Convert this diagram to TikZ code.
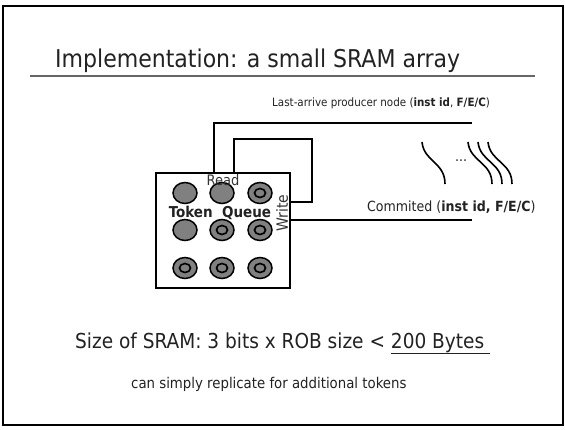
\documentclass[tikz,border=0pt]{standalone}
\usepackage{fontspec}
\setmainfont{DejaVu Sans Condensed}
\usetikzlibrary{shapes.geometric}
\definecolor{bitgray}{HTML}{808080}
\definecolor{txt}{HTML}{222222}
\tikzset{
  wire/.style={line width=2pt, black},
  wave/.style={line width=1.6pt, black},
  lbl/.style={inner sep=0pt, text=txt},
  arrbox/.style={draw, line width=2pt, minimum width=134pt, minimum height=115pt, inner sep=0pt},
  bit/.style={ellipse, draw, line width=1.5pt, fill=bitgray, minimum width=24pt, minimum height=21pt, inner sep=0pt},
  ringbit/.style={bit, path picture={\draw[line width=1.6pt] (path picture bounding box.center) ellipse (5.5pt and 4.5pt);}}
}
\begin{document}
\begin{tikzpicture}[x=1pt,y=-1pt]
\useasboundingbox (0,0) rectangle (565,429);
\draw[line width=2pt] (3,6) rectangle (563,425);
% title
\node[lbl, anchor=base west, font=\fontsize{24.5}{27}\selectfont] (title) at (55,67) {Implementation: a small SRAM array};
\draw[line width=2pt, color=black!60] (30,76) -- (535,76);
% labels on right
\node[lbl, anchor=west, font=\fontsize{11.5}{13}\selectfont] (lap) at (272,103) {Last-arrive producer node (\textbf{inst id}, \textbf{F/E/C})};
\node[lbl, anchor=west, font=\fontsize{14}{16}\selectfont] (com) at (367,207) {Commited (\textbf{inst id, F/E/C})};
% array box
\node[arrbox] (arr) at (223,230.5) {};
% bits
\node[bit] (b11) at (185,193) {};
\node[bit] (b12) at (222,193) {};
\node[ringbit] (b13) at (260,193) {};
\node[bit] (b21) at (185,230) {};
\node[ringbit] (b22) at (222,230) {};
\node[ringbit] (b23) at (260,230) {};
\node[ringbit] (b31) at (185,268) {};
\node[ringbit] (b32) at (222,268) {};
\node[ringbit] (b33) at (260,268) {};
\node[lbl, font=\bfseries\fontsize{15}{17}\selectfont] (tq) at (220,213) {Token\ \ Queue};
\node[lbl, font=\fontsize{14.5}{16}\selectfont, text=black!80] (rd) at (223,180) {Read};
\node[lbl, font=\fontsize{15.5}{17}\selectfont, text=black!80, rotate=90] (wr) at (282,213) {Write};
% wires
\coordinate (ra) at (214,123);
\coordinate (rb) at (472,123);
\draw[wire] (arr.north -| ra) -- (ra) -- (rb);
\coordinate (wa) at (234,139);
\coordinate (wb) at (312,202);
\draw[wire] (arr.north -| wa) -- (wa) -| (wb) -- (wb -| arr.east);
\coordinate (cb) at (472,220);
\draw[wire] (arr.east |- cb) -- (cb);
% waves
\draw[wave] (422,142) .. controls (424,162) and (445,162) .. (445,184);
\foreach \x in {468,478,488}
  \draw[wave] (\x,142) .. controls (\x+2,162) and (\x+24,162) .. (\x+24,184);
\node[lbl, font=\fontsize{14}{16}\selectfont] (dots) at (461,161) {...};
% bottom texts
\node[lbl, anchor=base west, font=\fontsize{20.6}{23}\selectfont] (size) at (75,348) {Size of SRAM: 3 bits x ROB size < \underline{200 Bytes\ }};
\node[lbl, anchor=west, font=\fontsize{14.8}{17}\selectfont] (rep) at (131,384) {can simply replicate for additional tokens};
\end{tikzpicture}
\end{document}
